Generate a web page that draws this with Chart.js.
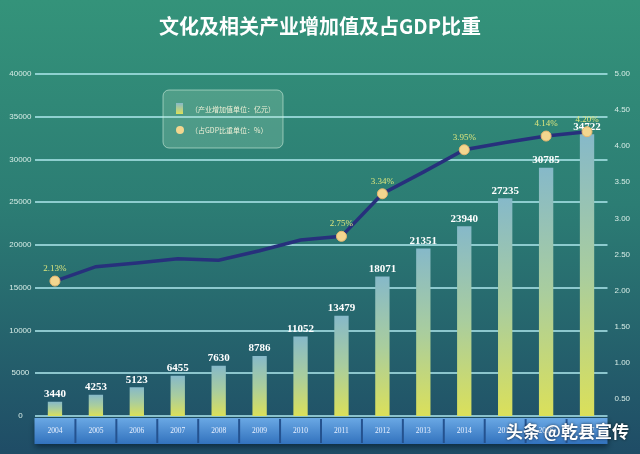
<!DOCTYPE html>
<html>
<head>
<meta charset="utf-8">
<script src="https://cdn.jsdelivr.net/npm/chart.js@4.4.1/dist/chart.umd.min.js"></script>
<style>
    html, body { margin: 0; padding: 0; background: #2b7a72; }
    #chartBox { width: 640px; height: 454px; }
</style>
</head>
<body>
<div id="chartBox"><canvas id="barChart"></canvas></div>
<script>
const years = [
    '2004', '2005', '2006', '2007', '2008', '2009', '2010',
    '2011', '2012', '2013', '2014', '2015', '2016', '2017'
];
const addedValue = [3440, 4253, 5123, 6455, 7630, 8786, 11052, 13479, 18071, 21351, 23940, 27235, 30785, 34722];
const gdpShare = [2.13, 2.33, 2.38, 2.44, 2.42, 2.55, 2.70, 2.75, 3.34, 3.64, 3.95, 4.05, 4.14, 4.20];
// only these years get a marker and a % label
const shareShown = [true, false, false, false, false, false, false, true, true, false, true, false, true, true];
const legendLabels = ['（产业增加值单位：亿元）', '（占GDP比重单位：%）'];
const titleText = '文化及相关产业增加值及占GDP比重';
const watermark = '头条 @乾县宣传';

function barGradient(context) {
    const chart = context.chart;
    if (!chart.chartArea || context.raw === undefined) {
        return '#a8cc9c';
    }
    const yScale = chart.scales.yBar;
    const top = yScale.getPixelForValue(context.raw);
    const bottom = chart.chartArea.bottom;
    const g = chart.ctx.createLinearGradient(0, top, 0, bottom);
    g.addColorStop(0, '#86b9c9');
    g.addColorStop(0.5, '#a9cd9e');
    g.addColorStop(1, '#dbe05a');
    return g;
}

const decorPlugin = {
    id: 'decor',
    beforeDraw(chart) {
        const ctx = chart.ctx;
        const area = chart.chartArea;
        const x = chart.scales.x;

        // background
        const bg = ctx.createLinearGradient(0, 0, 0, chart.height);
        bg.addColorStop(0, '#34937a');
        bg.addColorStop(0.45, '#2c7d74');
        bg.addColorStop(1, '#1f4c66');
        ctx.save();
        ctx.fillStyle = bg;
        ctx.fillRect(0, 0, chart.width, chart.height);

        // blue band under the x axis
        const bandTop = area.bottom + 2;
        const bandH = 26;
        ctx.shadowColor = 'rgba(0,20,40,0.6)';
        ctx.shadowBlur = 6;
        ctx.shadowOffsetY = 3;
        const band = ctx.createLinearGradient(0, bandTop, 0, bandTop + bandH);
        band.addColorStop(0, '#6aa8e4');
        band.addColorStop(1, '#3272bd');
        ctx.fillStyle = band;
        ctx.fillRect(area.left, bandTop, area.right - area.left, bandH);
        ctx.shadowColor = 'transparent';
        ctx.strokeStyle = '#24528f';
        ctx.lineWidth = 2;
        const step = x.getPixelForValue(1) - x.getPixelForValue(0);
        for (let i = 1; i < years.length; i++) {
            const px = x.getPixelForValue(i) - step / 2;
            ctx.beginPath();
            ctx.moveTo(px, bandTop + 1);
            ctx.lineTo(px, bandTop + bandH - 1);
            ctx.stroke();
        }
        ctx.restore();
    },
    afterDatasetDraw(chart, args) {
        // bar values go under the line, like in the source
        if (args.index !== 1) return;
        const ctx = chart.ctx;
        ctx.save();
        ctx.textAlign = 'center';
        ctx.textBaseline = 'bottom';
        ctx.fillStyle = '#ffffff';
        ctx.font = 'bold 11px "Liberation Serif"';
        args.meta.data.forEach((bar, i) => {
            ctx.fillText(String(addedValue[i]), bar.x, bar.y - 2);
        });
        ctx.restore();
    },
    afterDatasetsDraw(chart) {
        const ctx = chart.ctx;
        ctx.save();
        ctx.textAlign = 'center';
        ctx.textBaseline = 'bottom';

        // share labels
        ctx.fillStyle = '#dde67e';
        ctx.font = '9px "Liberation Serif"';
        chart.getDatasetMeta(0).data.forEach((pt, i) => {
            if (shareShown[i]) {
                ctx.fillText(gdpShare[i].toFixed(2) + '%', pt.x, pt.y - 8);
            }
        });
        ctx.restore();
    },
    afterDraw(chart) {
        const ctx = chart.ctx;
        ctx.save();

        // legend box
        const bx = 163, by = 90, bw = 120, bh = 58;
        ctx.beginPath();
        ctx.roundRect(bx, by, bw, bh, 6);
        ctx.fillStyle = 'rgba(190,230,200,0.22)';
        ctx.fill();
        ctx.strokeStyle = 'rgba(220,245,230,0.55)';
        ctx.lineWidth = 1;
        ctx.stroke();

        const icon = ctx.createLinearGradient(0, by + 13, 0, by + 24);
        icon.addColorStop(0, '#86b9c9');
        icon.addColorStop(1, '#dbe05a');
        ctx.fillStyle = icon;
        ctx.fillRect(bx + 13, by + 13, 7, 11);

        ctx.beginPath();
        ctx.arc(bx + 17, by + 40, 4, 0, Math.PI * 2);
        ctx.fillStyle = '#f3d68f';
        ctx.fill();

        ctx.fillStyle = '#eef0d6';
        ctx.font = '7px "Noto Sans CJK SC"';
        ctx.textBaseline = 'middle';
        ctx.fillText(legendLabels[0], bx + 28, by + 19);
        ctx.fillText(legendLabels[1], bx + 28, by + 40);

        // watermark
        ctx.font = 'bold 17px "Noto Sans CJK SC"';
        ctx.textAlign = 'left';
        ctx.shadowColor = 'rgba(0,0,0,0.7)';
        ctx.shadowBlur = 3;
        ctx.fillStyle = '#ffffff';
        ctx.fillText(watermark, 506, 432);
        ctx.restore();
    }
};

function createChart() {
    const ctx = document.getElementById('barChart');

    const cfg = {
        data: {
            labels: years,
            datasets: [
                {
                    type: 'line',
                    label: legendLabels[1],
                    data: gdpShare,
                    yAxisID: 'y1',
                    order: 0,
                    borderColor: '#27307c',
                    borderWidth: 3.5,
                    tension: 0,
                    pointRadius: shareShown.map(s => s ? 5 : 0),
                    pointBackgroundColor: '#f3d68f',
                    pointBorderColor: '#e8b870',
                    pointBorderWidth: 1
                },
                {
                    type: 'bar',
                    label: legendLabels[0],
                    data: addedValue,
                    yAxisID: 'yBar',
                    order: 1,
                    backgroundColor: barGradient,
                    borderWidth: 0,
                    categoryPercentage: 1,
                    barPercentage: 0.35
                }
            ]
        },
        options: {
            responsive: true,
            maintainAspectRatio: false,
            animation: false,
            layout: {
                padding: { left: 0, right: 0, top: 0, bottom: 7 }
            },
            scales: {
                x: {
                    grid: { display: false, drawTicks: false },
                    border: { display: false },
                    ticks: {
                        color: '#e8f0ff',
                        font: { family: 'Liberation Serif', size: 7.5 },
                        padding: 11,
                        maxRotation: 0,
                        autoSkip: false
                    }
                },
                y: {
                    position: 'left',
                    min: 0,
                    max: 40000,
                    border: { display: false },
                    grid: {
                        color: 'rgba(175,232,238,0.75)',
                        lineWidth: 2,
                        drawTicks: false
                    },
                    ticks: {
                        stepSize: 5000,
                        color: '#d6ece6',
                        font: { family: 'Liberation Sans', size: 8 },
                        crossAlign: 'center',
                        padding: 3,
                        callback: v => String(v)
                    },
                    afterFit: s => { s.width = 34.5; }
                },
                // the source draws its bars from a baseline hidden behind the axis band,
                // about 1760 units below the printed scale
                yBar: {
                    display: false,
                    min: 1760,
                    max: 41760
                },
                y1: {
                    position: 'right',
                    min: 0.26,
                    max: 5.0,
                    border: { display: false },
                    grid: { display: false, drawTicks: false },
                    ticks: {
                        stepSize: 0.5,
                        includeBounds: false,
                        color: '#d6ece6',
                        font: { family: 'Liberation Sans', size: 8 },
                        padding: 7,
                        callback: v => v.toFixed(2)
                    },
                    afterFit: s => { s.width = 32.5; }
                }
            },
            plugins: {
                legend: { display: false },
                tooltip: { enabled: false },
                title: {
                    display: true,
                    text: titleText,
                    color: '#ffffff',
                    font: { family: 'Noto Sans CJK SC', size: 20, weight: 'bold' },
                    padding: { top: 14, bottom: 36 }
                }
            }
        },
        plugins: [decorPlugin]
    };

    new Chart(ctx, cfg);
}

document.addEventListener('DOMContentLoaded', function () {
    createChart();
});
</script>
</body>
</html>
